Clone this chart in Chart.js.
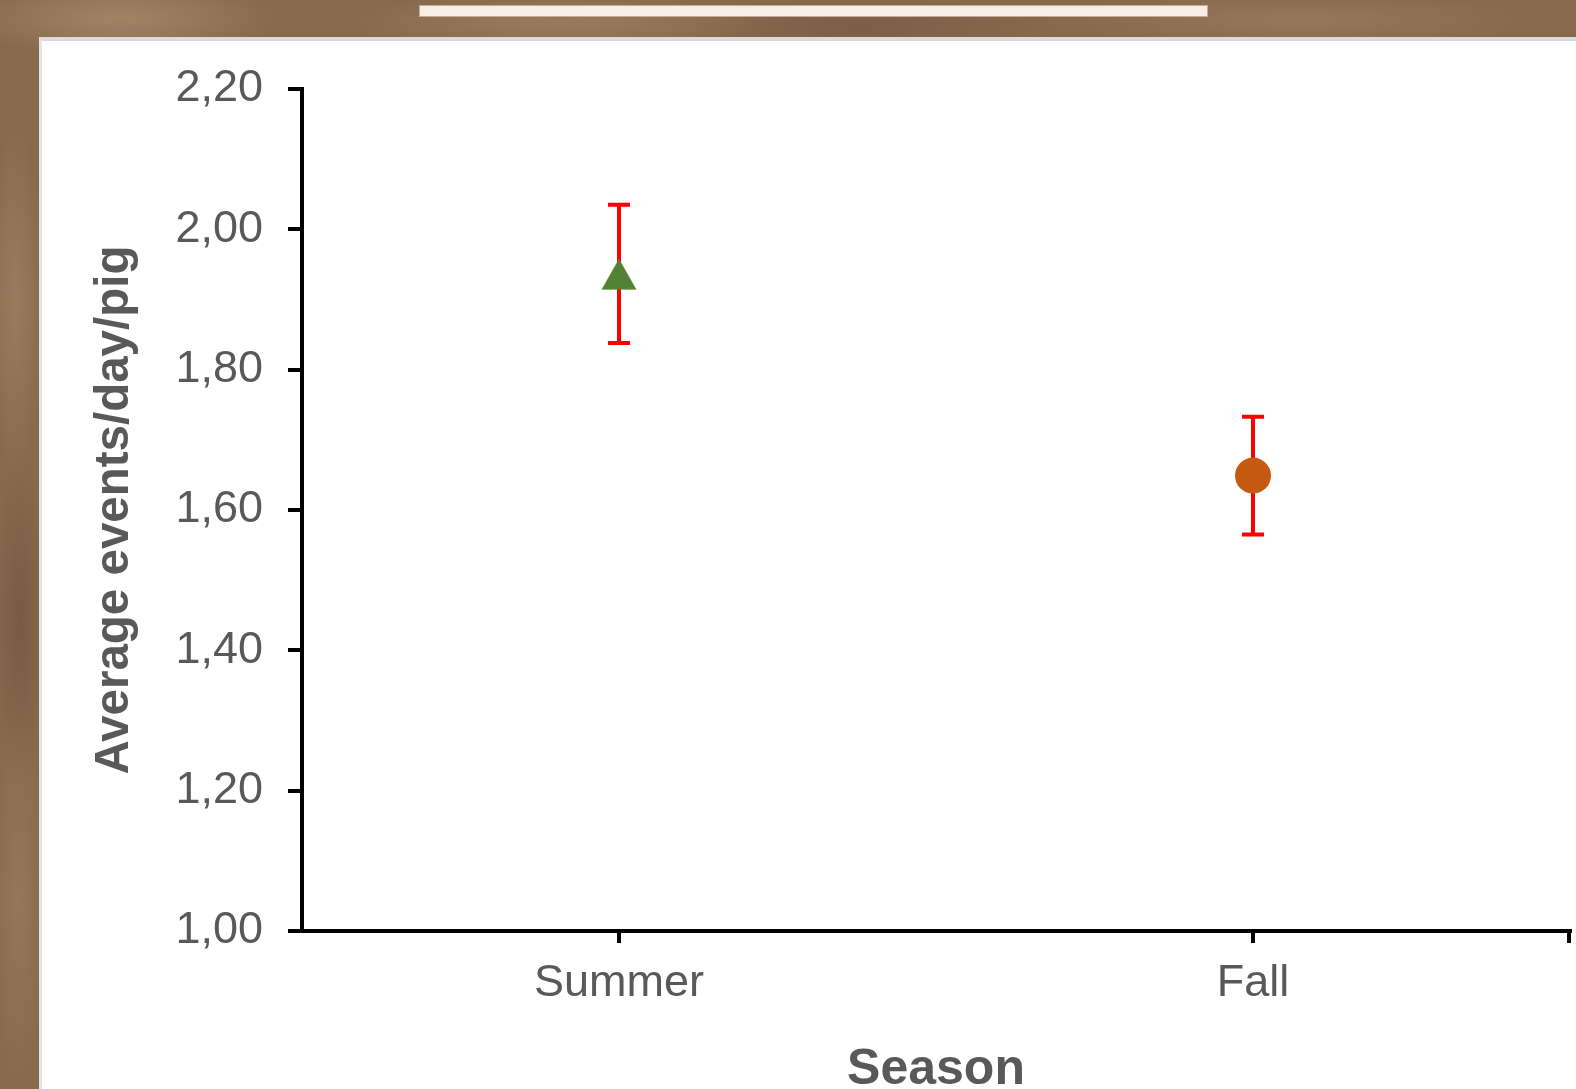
<!DOCTYPE html>
<html>
<head>
<meta charset="utf-8">
<script src="https://cdn.jsdelivr.net/npm/chart.js@4/dist/chart.umd.min.js"></script>
<style>
  html, body { margin:0; padding:0; width:1576px; height:1089px; overflow:hidden; }
  body {
    position:relative;
    background-color:#87694e;
    background-image:
      radial-gradient(ellipse 160px 40px at 120px 18px, rgba(170,140,108,0.75), rgba(170,140,108,0) 100%),
      radial-gradient(ellipse 220px 30px at 560px 22px, rgba(165,135,102,0.6), rgba(165,135,102,0) 100%),
      radial-gradient(ellipse 200px 30px at 860px 28px, rgba(115,85,60,0.55), rgba(115,85,60,0) 100%),
      radial-gradient(ellipse 240px 30px at 1300px 20px, rgba(160,128,96,0.6), rgba(160,128,96,0) 100%),
      radial-gradient(ellipse 30px 180px at 15px 300px, rgba(165,135,102,0.6), rgba(165,135,102,0) 100%),
      radial-gradient(ellipse 30px 160px at 20px 620px, rgba(110,80,56,0.6), rgba(110,80,56,0) 100%),
      radial-gradient(ellipse 30px 200px at 18px 900px, rgba(160,128,96,0.55), rgba(160,128,96,0) 100%);
  }
  #topbar { position:absolute; left:419px; top:5px; width:787px; height:10px; background:#f7eee8; border:1px solid #c9ab95; }
  #panel { position:absolute; left:39px; top:37px; right:0; bottom:0; background:#ffffff; border-top:4px solid #dadada; border-left:3px solid #e4e4e4; }
  #wrap { position:absolute; left:0; top:0; width:1576px; height:1100px; }
</style>
</head>
<body>
<div id="topbar"></div>
<div id="panel"></div>
<div id="wrap"><canvas id="c" width="1576" height="1100"></canvas></div>
<script>
const categories = ['Summer', 'Fall'];
const means = [1.936, 1.649];
const lowerBounds = [1.838, 1.565];
const upperBounds = [2.035, 1.733];
const yMin = 1.0, yMax = 2.2, yStep = 0.2;
const markerColors = ['#548235', '#c55a11'];
const xTitle = 'Season';
const yTitle = 'Average events/day/pig';

const FONT = '"Liberation Sans", Arial, sans-serif';

// triangle marker image (centered by bounding box, like the original)
const tri = document.createElement('canvas');
tri.width = 36; tri.height = 32;
(function(){
  const t = tri.getContext('2d');
  t.fillStyle = markerColors[0];
  t.beginPath();
  t.moveTo(18, 0.5); t.lineTo(35.5, 31.5); t.lineTo(0.5, 31.5); t.closePath();
  t.fill();
})();

const errorBars = {
  id: 'errorBars',
  beforeDatasetsDraw(chart) {
    const {ctx, scales:{x, y}} = chart;
    ctx.save();
    ctx.strokeStyle = '#ff0000';
    ctx.lineWidth = 4;
    ctx.lineCap = 'butt';
    for (let i = 0; i < categories.length; i++) {
      const px = x.getPixelForValue(i);
      const yt = y.getPixelForValue(upperBounds[i]);
      const yb = y.getPixelForValue(lowerBounds[i]);
      ctx.beginPath();
      ctx.moveTo(px, yt); ctx.lineTo(px, yb);
      ctx.moveTo(px - 11, yt); ctx.lineTo(px + 11, yt);
      ctx.moveTo(px - 11, yb); ctx.lineTo(px + 11, yb);
      ctx.stroke();
    }
    ctx.restore();
  },
  afterDraw(chart) {
    const {ctx, chartArea} = chart;
    ctx.save();
    ctx.strokeStyle = '#000';
    ctx.lineWidth = 4;
    ctx.beginPath();
    ctx.moveTo(chartArea.right - 1, chartArea.bottom);
    ctx.lineTo(chartArea.right - 1, chartArea.bottom + 12);
    ctx.stroke();
    ctx.restore();
  }
};

new Chart(document.getElementById('c'), {
  type: 'line',
  data: {
    labels: categories,
    datasets: [{
      data: means,
      showLine: false,
      clip: false,
      pointStyle: [tri, 'circle'],
      pointRadius: [18, 18],
      pointBackgroundColor: markerColors,
      pointBorderColor: markerColors,
      pointBorderWidth: 0
    }]
  },
  options: {
    responsive: false,
    animation: false,
    devicePixelRatio: 1,
    layout: { autoPadding: false, padding: { top: 89, right: 6, left: 0, bottom: 0 } },
    plugins: { legend: { display: false }, tooltip: { enabled: false } },
    scales: {
      x: {
        type: 'category',
        offset: true,
        afterFit(s) { s.height = 1100 - 931; },
        grid: { display: true, drawOnChartArea: false, drawTicks: true, tickLength: 12, lineWidth: 4, color: '#000', offset: false },
        border: { display: true, color: '#000', width: 4 },
        ticks: { color: '#595959', font: { family: FONT, size: 45 }, padding: 14 },
        title: { display: true, text: xTitle, color: '#595959', font: { family: FONT, size: 50, weight: 'bold' }, padding: { top: 0, bottom: 0 } }
      },
      y: {
        min: yMin, max: yMax,
        afterFit(s) { s.width = 302; },
        grid: { display: true, drawOnChartArea: false, drawTicks: true, tickLength: 14, lineWidth: 4, color: '#000' },
        border: { display: true, color: '#000', width: 4 },
        ticks: {
          stepSize: yStep, color: '#595959', font: { family: FONT, size: 45 }, padding: 25,
          callback: v => Number(v).toFixed(2).replace('.', ',')
        },
        title: { display: true, text: yTitle, color: '#595959', font: { family: FONT, size: 47.5, weight: 'bold' }, padding: { top: 86, bottom: 0 } }
      }
    }
  },
  plugins: [errorBars]
});
</script>
</body>
</html>
